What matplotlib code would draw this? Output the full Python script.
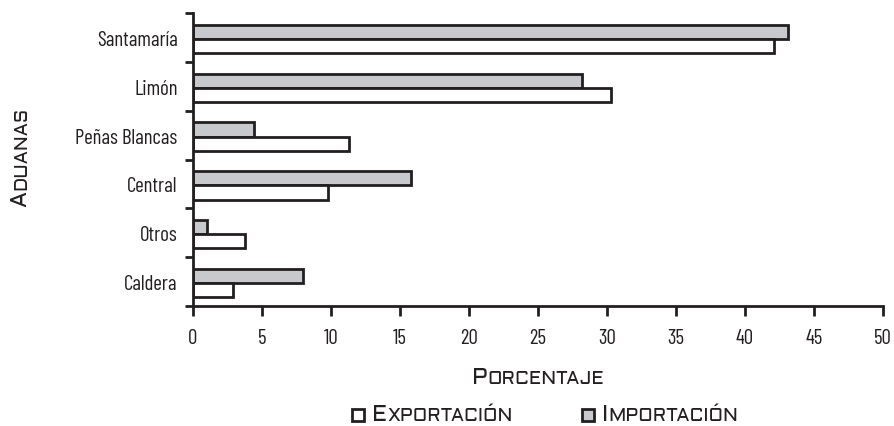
import matplotlib
matplotlib.use("Agg")
import matplotlib.pyplot as plt
from matplotlib.patches import Rectangle
from matplotlib.transforms import IdentityTransform
import numpy as np

# Datos (porcentajes)
aduanas = ["Santamaría", "Limón", "Peñas Blancas", "Central", "Otros", "Caldera"]
importacion = [43.1, 28.2, 4.4, 15.8, 1.0, 8.0]
exportacion = [42.1, 30.3, 11.3, 9.8, 3.8, 2.9]
ticks_x = [0, 5, 10, 15, 20, 25, 30, 35, 40, 45, 50]

fuente = ["Barlow Condensed", "DejaVu Sans"]
fuente_titulos = ["Aldrich", "DejaVu Sans"]
gris = "#c8c9cc"
borde = "#231f20"
texto = "#231f20"

W, H = 894, 427
fig = plt.figure(figsize=(W / 100, H / 100), dpi=100)
ax = fig.add_axes([193 / W, 1 - 307 / H, 690 / W, 293 / H])

y = np.arange(len(aduanas))
alto = 0.29
ax.barh(y - alto / 2 + 0.03, importacion, height=alto, color=gris, edgecolor=borde, linewidth=2)
ax.barh(y + alto / 2 + 0.03, exportacion, height=alto, color="white", edgecolor=borde, linewidth=2)

ax.set_xlim(0, 50)
ax.set_ylim(len(aduanas) - 0.5, -0.5)
ax.set_xticks(ticks_x)
ax.set_xticklabels([str(t) for t in ticks_x], family=fuente, fontsize=15, color=texto)
ax.set_yticks(y)
ax.set_yticklabels(aduanas, family=fuente, fontsize=15, color=texto)
ax.set_yticks(np.arange(-0.5, len(aduanas), 1.0), minor=True)
ax.tick_params(axis="y", which="major", length=0, pad=11)
ax.tick_params(axis="y", which="minor", length=6, width=2, color=borde)
ax.tick_params(axis="x", length=7, width=2, color=borde, pad=9)

for lado in ["top", "right"]:
    ax.spines[lado].set_visible(False)
for lado in ["left", "bottom"]:
    ax.spines[lado].set_linewidth(2)
    ax.spines[lado].set_color(borde)

fig.canvas.draw()
renderer = fig.canvas.get_renderer()


# Versalitas a mano: primera letra grande y el resto en mayúsculas pequeñas.
# x, y en píxeles desde arriba a la izquierda; y es la línea base.
def versalitas(x, y, palabra, grande=16.5, chica=13.5, rot=0, centrar=True, hueco=0.5):
    yb = H - y
    t1 = fig.text(0, 0, palabra[0], fontsize=grande, family=fuente_titulos, color=texto,
                  transform=IdentityTransform(), ha="left", va="baseline")
    t2 = fig.text(0, 0, palabra[1:].upper(), fontsize=chica, family=fuente_titulos, color=texto,
                  transform=IdentityTransform(), ha="left", va="baseline")
    w1 = t1.get_window_extent(renderer).width
    w2 = t2.get_window_extent(renderer).width
    total = w1 + hueco + w2
    if rot == 0:
        x0 = x - total / 2 if centrar else x
        t1.set_position((x0, yb))
        t2.set_position((x0 + w1 + hueco, yb))
    else:
        y0 = yb - total / 2
        for t in (t1, t2):
            t.set_rotation(90)
            t.set_rotation_mode("anchor")
        t1.set_position((x, y0))
        t2.set_position((x, y0 + w1 + hueco))


versalitas(538, 384, "Porcentaje")
versalitas(26, 157, "Aduanas", rot=90)

# Leyenda hecha a mano
for x_caja, relleno, nombre in [(352, "white", "Exportación"), (582, gris, "Importación")]:
    fig.patches.append(Rectangle((x_caja / W, 1 - 422 / H), 12 / W, 12 / H,
                                 transform=fig.transFigure, facecolor=relleno,
                                 edgecolor=borde, linewidth=2))
    versalitas(x_caja + 20, 421, nombre, centrar=False)

fig.savefig("out.png", dpi=100)
